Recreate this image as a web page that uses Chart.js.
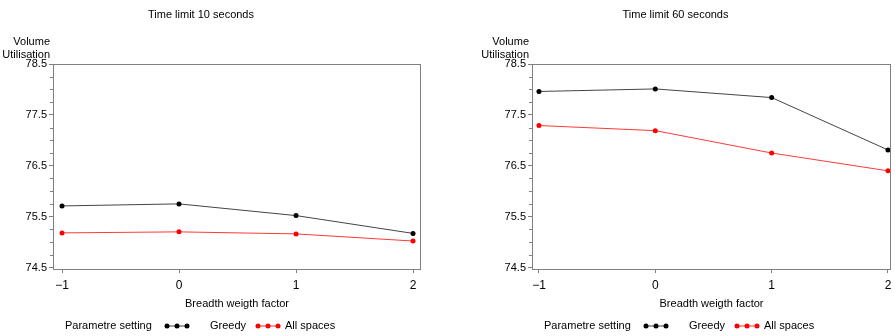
<!DOCTYPE html>
<html>
<head>
<meta charset="utf-8">
<script src="https://cdn.jsdelivr.net/npm/chart.js@4"></script>
<style>
  body { margin: 0; background: #fff; }
  .panel { position: absolute; top: 0; }
</style>
</head>
<body>
<div class="panel" style="left:0"><canvas id="chart10" width="448" height="336"></canvas></div>
<div class="panel" style="left:448px"><canvas id="chart60" width="447" height="336"></canvas></div>
<script>
// Breadth weight factor on the x axis
const breadthFactors = [-1, 0, 1, 2];

// Volume utilisation, time limit 10 seconds
const greedy10 = [75.71, 75.75, 75.52, 75.17];
const allSpaces10 = [75.18, 75.2, 75.16, 75.02];

// Volume utilisation, time limit 60 seconds
const greedy60 = [77.96, 78.01, 77.84, 76.81];
const allSpaces60 = [77.29, 77.19, 76.75, 76.4];

const yTickValues = [74.5, 75.5, 76.5, 77.5, 78.5];
const xTickValues = [-1, 0, 1, 2];
const xTickLabels = ["\u22121", "0", "1", "2"];

const FONT = "'Liberation Sans', Arial, sans-serif";
const AXIS_GRAY = "#808080";

// frame, minor ticks, titles and legend
const decorPlugin = {
  id: "decor",
  afterDraw(chart, args, opts) {
    const ctx = chart.ctx;
    const a = chart.chartArea;
    const y = chart.scales.y;
    ctx.save();

    ctx.strokeStyle = AXIS_GRAY;
    ctx.lineWidth = 1;
    ctx.strokeRect(Math.round(a.left) + 0.5, Math.round(a.top) + 0.5,
      Math.round(a.right - a.left) - 1, Math.round(a.bottom - a.top));

    // minor ticks every quarter unit
    ctx.beginPath();
    for (let i = 0; i < yTickValues.length - 1; i++) {
      for (let k = 1; k < 4; k++) {
        const py = Math.round(y.getPixelForValue(yTickValues[i] + k * 0.25)) + 0.5;
        ctx.moveTo(a.left - 3, py);
        ctx.lineTo(a.left, py);
      }
    }
    ctx.stroke();

    ctx.fillStyle = "#000";
    ctx.font = "11px " + FONT;
    ctx.textBaseline = "middle";

    const cx = (a.left + a.right) / 2;
    ctx.textAlign = "center";
    ctx.fillText(opts.title, cx - 36, 15);
    ctx.fillText("Breadth weigth factor", cx, 304);

    ctx.textAlign = "right";
    ctx.fillText("Volume", a.left - 3, 42);
    ctx.fillText("Utilisation", a.left - 3, 55);

    // legend row
    const ly = 326;
    ctx.textAlign = "left";
    ctx.fillText("Parametre setting", a.left + 12, ly);
    const items = chart.data.datasets;
    const offsets = [[114, 157], [205, 232]];
    items.forEach((ds, i) => {
      const x0 = a.left + offsets[i][0];
      ctx.strokeStyle = ds.borderColor;
      ctx.beginPath();
      ctx.moveTo(x0, ly);
      ctx.lineTo(x0 + 20, ly);
      ctx.stroke();
      ctx.fillStyle = ds.pointBackgroundColor;
      [0, 10, 20].forEach((dx) => {
        ctx.beginPath();
        ctx.arc(x0 + dx, ly, 2.5, 0, Math.PI * 2);
        ctx.fill();
      });
      ctx.fillStyle = "#000";
      ctx.fillText(ds.label, a.left + offsets[i][1], ly);
    });

    ctx.restore();
  },
};

function criarGrafico(id, titulo, greedy, allSpaces, eixoLargura, padDireita, xMin, xMax) {
  const ctx = document.getElementById(id);
  return new Chart(ctx, {
    type: "line",
    data: {
      datasets: [
        {
          label: "Greedy",
          data: breadthFactors.map((x, i) => ({ x: x, y: greedy[i] })),
          borderColor: "#444",
          pointBackgroundColor: "#000",
          pointBorderColor: "#000",
        },
        {
          label: "All spaces",
          data: breadthFactors.map((x, i) => ({ x: x, y: allSpaces[i] })),
          borderColor: "#ff3838",
          pointBackgroundColor: "#ff0000",
          pointBorderColor: "#ff0000",
        },
      ],
    },
    options: {
      responsive: false,
      animation: false,
      layout: { padding: { top: 64, right: padDireita, left: 0, bottom: 0 } },
      elements: {
        line: { borderWidth: 1, tension: 0 },
        point: { radius: 2.5, borderWidth: 0 },
      },
      plugins: {
        legend: { display: false },
        tooltip: { enabled: false },
        decor: { title: titulo },
      },
      scales: {
        x: {
          type: "linear",
          min: xMin,
          max: xMax,
          afterBuildTicks: (scale) => {
            scale.ticks = xTickValues.map((v) => ({ value: v }));
          },
          afterFit: (scale) => {
            scale.height = 67;
            // let the last tick label run past the frame
            scale.paddingLeft = 0;
            scale.paddingRight = 0;
          },
          border: { display: false },
          grid: { drawOnChartArea: false, tickLength: 4, color: AXIS_GRAY },
          ticks: {
            padding: 5,
            color: "#000",
            font: { family: FONT, size: 12 },
            maxRotation: 0,
            callback: (v) => xTickLabels[xTickValues.indexOf(v)],
          },
        },
        y: {
          min: 74.47,
          max: 78.5,
          afterBuildTicks: (scale) => {
            scale.ticks = yTickValues.map((v) => ({ value: v }));
          },
          afterFit: (scale) => {
            scale.width = eixoLargura;
            scale.paddingTop = 0;
            scale.paddingBottom = 0;
          },
          border: { display: false },
          grid: { drawOnChartArea: false, tickLength: 4, color: AXIS_GRAY },
          ticks: {
            padding: 2,
            color: "#000",
            font: { family: FONT, size: 11 },
            callback: (v) => v.toFixed(1),
          },
        },
      },
    },
    plugins: [decorPlugin],
  });
}

criarGrafico("chart10", "Time limit 10 seconds", greedy10, allSpaces10, 53, 27, -1.077, 2.068);
criarGrafico("chart60", "Time limit 60 seconds", greedy60, allSpaces60, 84, 1, -1.06, 2.026);
</script>
</body>
</html>
